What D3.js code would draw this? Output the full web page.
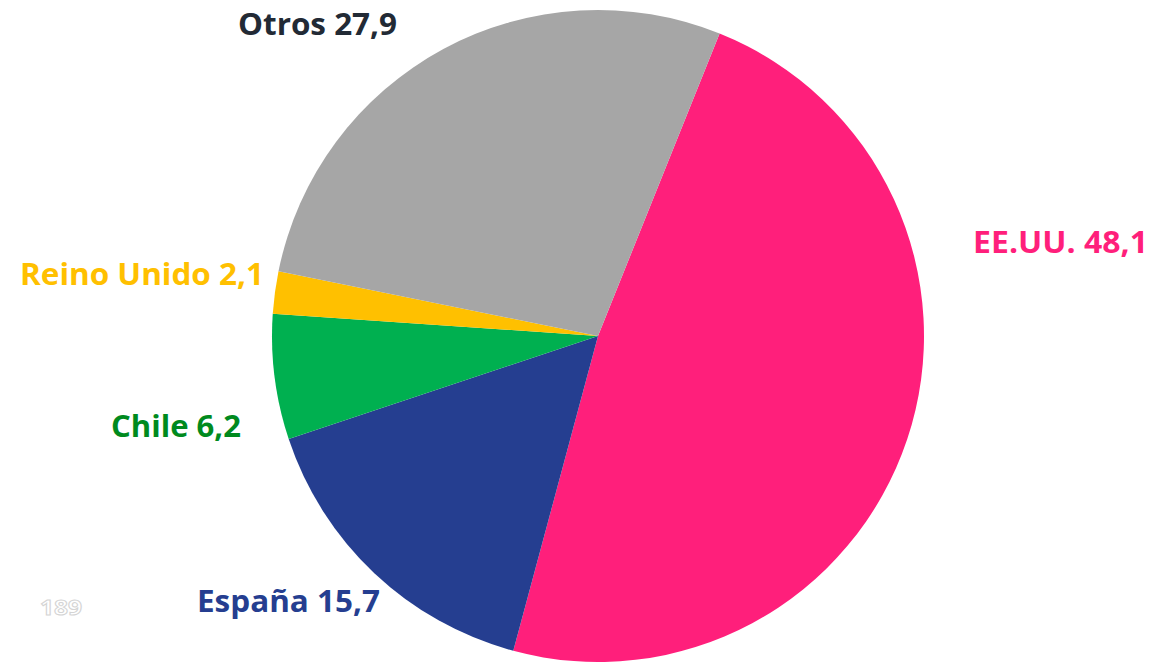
<!DOCTYPE html>
<html>
<head>
<meta charset="utf-8">
<script src="https://cdn.jsdelivr.net/npm/d3@7"></script>
<style>
  body { margin: 0; background: #fff; }
  svg text { font-family: "Open Sans", "Noto Sans", sans-serif; font-weight: 700; }
</style>
</head>
<body>
<div id="chart"></div>
<script>
// Data
const countries = ["EE.UU.", "España", "Chile", "Reino Unido", "Otros"];
const shares = [48.1, 15.7, 6.2, 2.1, 27.9];
const sliceColors = ["#FF1F7B", "#253E90", "#00B050", "#FFC000", "#A6A6A6"];
const labelColors = ["#FF1F7B", "#253E90", "#008A1E", "#FFC000", "#222A35"];

// Label placement (x, baseline y, fitted width)
const labelPos = [
    { x: 973, y: 253, w: 175 },
    { x: 197, y: 612, w: 183 },
    { x: 111, y: 437, w: 130 },
    { x: 20, y: 285, w: 244 },
    { x: 238, y: 35, w: 159 }
];

const width = 1154;
const height = 663;
const cx = 598, cy = 336, radius = 326;
const startOffset = 21.9 * Math.PI / 180;

const svg = d3.select("#chart")
    .append("svg")
    .attr("width", width)
    .attr("height", height);

const pie = d3.pie()
    .value(d => d)
    .sort(null)
    .startAngle(startOffset)
    .endAngle(startOffset + 2 * Math.PI);

const arc = d3.arc().innerRadius(0).outerRadius(radius);

const g = svg.append("g")
    .attr("transform", `translate(${cx},${cy})`);

g.selectAll("path")
    .data(pie(shares))
    .enter()
    .append("path")
    .attr("d", arc)
    .attr("fill", (d, i) => sliceColors[i]);

// Labels
const fmt = v => v.toFixed(1).replace(".", ",");

svg.selectAll("text.label")
    .data(countries)
    .enter()
    .append("text")
    .attr("class", "label")
    .attr("x", (d, i) => labelPos[i].x)
    .attr("y", (d, i) => labelPos[i].y)
    .attr("font-size", 31)
    .attr("textLength", (d, i) => labelPos[i].w)
    .attr("lengthAdjust", "spacingAndGlyphs")
    .attr("fill", (d, i) => labelColors[i])
    .text((d, i) => `${d} ${fmt(shares[i])}`);

// Faint slide number
svg.append("text")
    .attr("x", 40)
    .attr("y", 615)
    .attr("font-size", 21)
    .attr("fill", "#fff")
    .attr("stroke", "#d4d4d4")
    .attr("stroke-width", 1)
    .attr("textLength", 42)
    .attr("lengthAdjust", "spacingAndGlyphs")
    .text("189");
</script>
</body>
</html>
